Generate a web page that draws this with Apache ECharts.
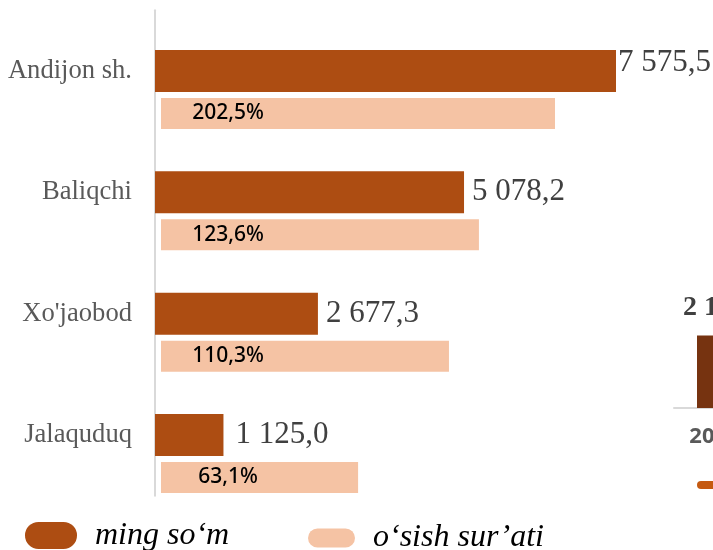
<!DOCTYPE html>
<html>
<head>
<meta charset="utf-8">
<script src="https://cdn.jsdelivr.net/npm/echarts@6/dist/echarts.min.js"></script>
<style>
  html, body { margin: 0; padding: 0; background: #fff; }
  #chart { width: 713px; height: 550px; }
</style>
</head>
<body>
<div id="chart"></div>
<script>
// tumanlar
const districts = ['Andijon sh.', 'Baliqchi', "Xo'jaobod", 'Jalaquduq']
// ming so'm
const volume = [7575.5, 5078.2, 2677.3, 1125.0]
// o'sish sur'ati, % (yozuvlar)
const growth = [202.5, 123.6, 110.3, 63.1]
// o'sish ustunlarining rasmdagi uzunligi (Andijon = 202,5 shkalasida)
const growthBar = [202.5, 163.4, 148.0, 101.3]
// o'ngdagi kesilgan diagramma
const years = ['2023', '2024', '2025']
const regionVolume = [2145, null, null]

const serif = '"Liberation Serif", "Times New Roman", serif'
const sans = '"Noto Sans", sans-serif'

const fmt = v => {
  const [a, b] = v.toFixed(1).split('.')
  return a.replace(/\B(?=(\d{3})+(?!\d))/g, ' ') + ',' + b
}

const pill = (w, h) => {
  const r = h / 2
  return 'path://M' + r + ',0 H' + (w - r) + ' A' + r + ',' + r + ' 0 0 1 ' + (w - r) + ',' + h +
      ' H' + r + ' A' + r + ',' + r + ' 0 0 1 ' + r + ',0 Z'
}

const chart = echarts.init(document.getElementById('chart'))

chart.setOption({
  animation: false,
  grid: [
    {left: 155, top: 10.35, width: 461, height: 485.3, outerBoundsMode: 'none'},
    {left: 161, top: 52.85, width: 394, height: 485.3, outerBoundsMode: 'none'},
    {left: 674, top: 300, width: 243, height: 108, outerBoundsMode: 'none'}
  ],
  legend: [
    {
      data: ['ming so‘m'], left: 25, top: 518.4, padding: 0,
      itemWidth: 52, itemHeight: 27, icon: pill(52, 27),
      textStyle: {fontFamily: serif, fontStyle: 'italic', fontSize: 32, lineHeight: 27, color: '#000', padding: [0, 0, 7, 13]}
    },
    {
      data: ['o‘sish sur’ati'], left: 308, top: 522, padding: 0,
      itemWidth: 47, itemHeight: 19, icon: pill(47, 19),
      textStyle: {fontFamily: serif, fontStyle: 'italic', fontSize: 32, lineHeight: 19, color: '#000', padding: [0, 0, 12, 13]}
    },
    {
      data: [{name: 'viloyat', itemStyle: {color: '#c55a11'}}], left: 697, top: 477, padding: 0,
      itemWidth: 40, itemHeight: 8, icon: pill(40, 8),
      textStyle: {fontFamily: sans, fontSize: 16, color: '#595959'}
    }
  ],
  xAxis: [
    {type: 'value', gridIndex: 0, min: 0, max: 'dataMax', show: false},
    {type: 'value', gridIndex: 1, min: 0, max: 'dataMax', show: false},
    {
      type: 'category', gridIndex: 2, data: years,
      axisLine: {lineStyle: {color: '#d9d9d9', width: 2}},
      axisTick: {show: false},
      axisLabel: {fontFamily: sans, fontWeight: 'bold', fontSize: 22, color: '#595959', margin: 18}
    }
  ],
  yAxis: [
    {
      type: 'category', gridIndex: 0, data: districts, inverse: true,
      axisLine: {lineStyle: {color: '#d9d9d9', width: 2}},
      axisTick: {show: false},
      axisLabel: {fontFamily: serif, fontSize: 26.6, color: '#595959', margin: 23}
    },
    {type: 'category', gridIndex: 1, data: districts, inverse: true, show: false},
    {type: 'value', gridIndex: 2, min: 0, max: 3200, show: false}
  ],
  series: [
    {
      name: 'ming so‘m', type: 'bar', xAxisIndex: 0, yAxisIndex: 0,
      barWidth: 42,
      itemStyle: {color: '#ad4d12'},
      data: volume.map((v, i) => {
        const d = {value: v}
        if (i === 0) d.label = {distance: 2, offset: [0, -8]}
        if (i === 3) d.label = {distance: 12}
        return d
      }),
      label: {
        show: true, position: 'right', distance: 8,
        fontFamily: serif, fontSize: 31, color: '#404040',
        formatter: p => fmt(p.value)
      }
    },
    {
      name: 'o‘sish sur’ati', type: 'bar', xAxisIndex: 1, yAxisIndex: 1,
      barWidth: 31,
      itemStyle: {color: '#f5c3a4'},
      data: growthBar,
      label: {
        show: true, position: [67, '50%'], align: 'center', verticalAlign: 'middle',
        fontFamily: sans, fontWeight: 500, fontSize: 21, color: '#000',
        formatter: p => fmt(growth[p.dataIndex]) + '%'
      }
    },
    {
      name: 'viloyat', type: 'bar', xAxisIndex: 2, yAxisIndex: 2,
      barWidth: 35,
      itemStyle: {color: '#763310'},
      data: regionVolume,
      label: {
        show: true, position: 'top', distance: 14,
        fontFamily: serif, fontWeight: 'bold', fontSize: 28, color: '#404040',
        formatter: p => String(p.value).replace(/\B(?=(\d{3})+(?!\d))/g, ' ')
      }
    }
  ]
})

window.onresize = function () {
  chart.resize()
}
</script>
</body>
</html>
